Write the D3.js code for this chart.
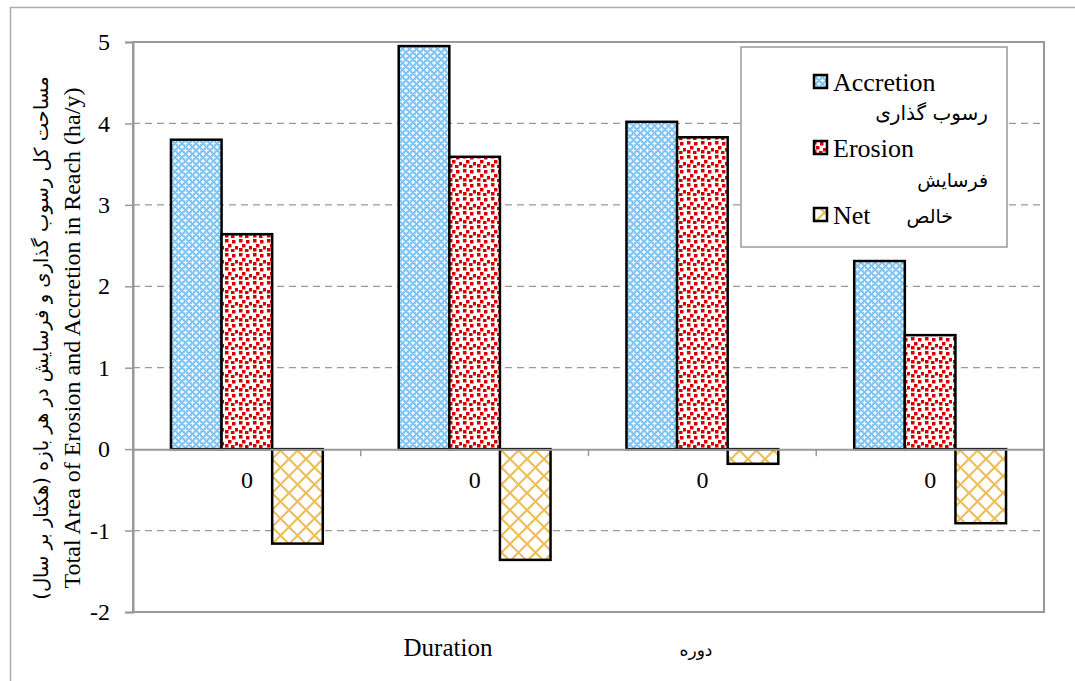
<!DOCTYPE html>
<html><head><meta charset="utf-8">
<script src="https://cdn.jsdelivr.net/npm/d3@7"></script>
<style>
body{margin:0;background:#fff}svg{display:block}
.sf{font-family:"Liberation Serif",serif;}
.fa{font-family:"DejaVu Sans",sans-serif;}
</style>
</head><body>
<svg id="c" width="1075" height="681"></svg>
<script>
const categories = ["0", "0", "0", "0"];
const seriesNames = ["Accretion", "Erosion", "Net"];
const seriesNamesFa = ["رسوب گذاری", "فرسایش", "خالص"];
const accretion = [3.8, 4.95, 4.02, 2.31];
const erosion = [2.64, 3.59, 3.83, 1.40];
const net = [-1.16, -1.36, -0.18, -0.91];
const yTicks = [-2, -1, 0, 1, 2, 3, 4, 5];

const svg = d3.select("#c");
const m = {l: 133, r: 1044, t: 42, b: 612};

// patterns
const defs = svg.append("defs");
const pA = defs.append("pattern").attr("id","pA").attr("patternUnits","userSpaceOnUse").attr("width",7).attr("height",7);
pA.append("rect").attr("width",7).attr("height",7).attr("fill","#7cc3f3");
[[0,0],[7,0],[0,7],[7,7],[3.5,3.5]].forEach(([x,y])=>{
  pA.append("rect").attr("x",x-0.6).attr("y",y-2).attr("width",1.2).attr("height",4).attr("fill","#fff");
  pA.append("rect").attr("x",x-2).attr("y",y-0.6).attr("width",4).attr("height",1.2).attr("fill","#fff");
});
const pE = defs.append("pattern").attr("id","pE").attr("patternUnits","userSpaceOnUse").attr("width",14).attr("height",14);
pE.append("rect").attr("width",14).attr("height",14).attr("fill","#fff");
[[1,1],[8,2],[4,6],[11,8],[1,10],[7,11]].forEach(([x,y])=>{
  pE.append("rect").attr("x",x).attr("y",y).attr("width",3.5).attr("height",3.5).attr("fill","#d40000");
});
const pN = defs.append("pattern").attr("id","pN").attr("patternUnits","userSpaceOnUse").attr("width",17).attr("height",17);
pN.append("rect").attr("width",17).attr("height",17).attr("fill","#fff");
pN.append("path").attr("d","M0,0L17,17M17,0L0,17").attr("stroke","#ecbf5c").attr("stroke-width",2.2);
const fills = ["url(#pA)","url(#pE)","url(#pN)"];

// outer border
svg.append("rect").attr("x",10.5).attr("y",7.5).attr("width",1100).attr("height",700)
  .attr("fill","none").attr("stroke","#aaa").attr("stroke-width",1.5);

const y = d3.scaleLinear().domain([-2,5]).range([m.b,m.t]);
const x = d3.scaleBand().domain(d3.range(categories.length)).range([m.l,m.r]).paddingInner(1/3).paddingOuter(1/6);
const xs = d3.scaleBand().domain(d3.range(seriesNames.length)).range([0,x.bandwidth()]);

// gridlines
svg.append("g").selectAll("line").data(yTicks.filter(t=>t!==0 && t!==5 && t!==-2)).join("line")
  .attr("x1",m.l).attr("x2",m.r).attr("y1",d=>y(d)).attr("y2",d=>y(d))
  .attr("stroke","#999").attr("stroke-width",1.3).attr("stroke-dasharray","7,5");

// plot border
svg.append("rect").attr("x",m.l).attr("y",m.t).attr("width",m.r-m.l).attr("height",m.b-m.t)
  .attr("fill","none").attr("stroke","#999").attr("stroke-width",2);

// y axis
const ya = svg.append("g").attr("transform",`translate(${m.l},0)`)
  .call(d3.axisLeft(y).tickValues(yTicks).tickSize(8).tickPadding(15).tickFormat(d=>String(d)));
ya.select(".domain").attr("stroke","#999").attr("stroke-width",2);
ya.selectAll(".tick line").attr("stroke","#999").attr("stroke-width",1.5);
ya.selectAll("text").attr("class","sf").attr("font-family",null).attr("font-size",24).attr("fill","#000");
ya.attr("font-family",null);

// bars
const data = [accretion, erosion, net];
const g = svg.append("g");
data.forEach((arr,si)=>{
  g.selectAll(null).data(arr).join("rect")
    .attr("x",(d,i)=>x(i)+xs(si))
    .attr("y",d=>y(Math.max(0,d)))
    .attr("width",xs.bandwidth())
    .attr("height",d=>Math.abs(y(d)-y(0)))
    .attr("fill",fills[si]).attr("stroke","#000").attr("stroke-width",2.5);
});

// zero axis
const xa = svg.append("g").attr("transform",`translate(0,${y(0)})`)
  .call(d3.axisBottom(x).tickSize(0).tickPadding(22).tickFormat(i=>categories[i]));
xa.attr("font-family",null);
xa.select(".domain").attr("stroke","#999").attr("stroke-width",2);
xa.selectAll("text").attr("class","sf").attr("font-size",24).attr("fill","#000");
const bounds = d3.range(1,categories.length).map(i=>x(i)-x.step()*x.paddingInner()/2);
svg.append("g").selectAll("line").data(bounds).join("line")
  .attr("x1",d=>d).attr("x2",d=>d).attr("y1",y(0)).attr("y2",y(0)+7)
  .attr("stroke","#999").attr("stroke-width",1.5);

// x title
svg.append("text").attr("class","sf").attr("x",448).attr("y",656).attr("text-anchor","middle")
  .attr("font-size",25).text("Duration");
svg.append("text").attr("class","fa").attr("x",696).attr("y",656).attr("text-anchor","middle")
  .attr("font-size",17).attr("direction","rtl").text("دوره");

// y title
const yt = svg.append("g").attr("transform","translate(0,338) rotate(-90)");
yt.append("text").attr("class","sf").attr("x",0).attr("y",80).attr("text-anchor","middle")
  .attr("font-size",24).text("Total Area of Erosion and Accretion in Reach (ha/y)");
yt.append("text").attr("class","fa").attr("x",0).attr("y",48).attr("text-anchor","middle").attr("direction","rtl")
  .attr("font-size",19.5).text("مساحت کل رسوب گذاری و فرسایش در هر بازه (هکتار بر سال)");

// legend
svg.append("rect").attr("x",741).attr("y",47).attr("width",266).attr("height",200)
  .attr("fill","#fff").attr("stroke","#999").attr("stroke-width",1.5);
const legY = [82, 148, 215];
seriesNames.forEach((s,i)=>{
  svg.append("rect").attr("x",814).attr("y",legY[i]-7).attr("width",13).attr("height",13)
    .attr("fill",fills[i]).attr("stroke","#000").attr("stroke-width",2.5);
  svg.append("text").attr("class","sf").attr("x",833).attr("y",legY[i]+9).attr("font-size",26).text(s);
});
svg.append("text").attr("class","fa").attr("x",988).attr("y",120).attr("text-anchor","end").attr("font-size",20).text(seriesNamesFa[0]);
svg.append("text").attr("class","fa").attr("x",988).attr("y",187).attr("text-anchor","end").attr("font-size",19).text(seriesNamesFa[1]);
svg.append("text").attr("class","fa").attr("x",953).attr("y",223).attr("text-anchor","end").attr("font-size",19).text(seriesNamesFa[2]);
</script>
</body></html>
